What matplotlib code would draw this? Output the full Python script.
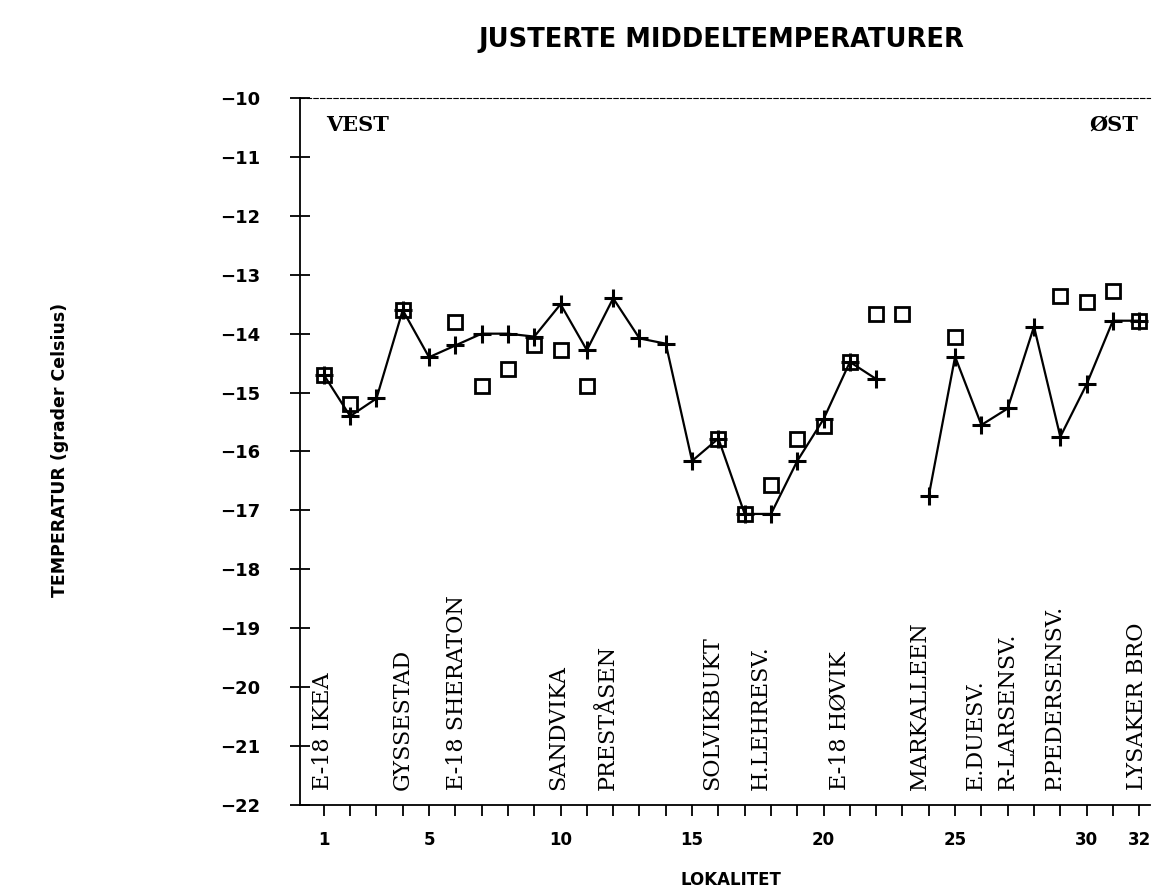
import numpy as np
import matplotlib
matplotlib.use("Agg")
import matplotlib.pyplot as plt
import matplotlib.ticker as ticker

# ── data ─────────────────────────────────────────────────────────────────────
lokalitet = np.arange(1, 33)

# '+' series, joined by a line (no value at 23 -> gap)
temp_plus = [-14.70, -15.40, -15.10, -13.60, -14.40, -14.20, -14.00, -14.00,
             -14.05, -13.50, -14.28, -13.40, -14.08, -14.17, -16.16, -15.78,
             -17.06, -17.06, -16.16, -15.45, -14.48, -14.77, np.nan, -16.75,
             -14.39, -15.55, -15.27, -13.88, -15.75, -14.86, -13.78, -13.78]

# open squares
temp_square = [-14.70, -15.20, np.nan, -13.60, np.nan, -13.80, -14.89, -14.60,
               -14.19, -14.28, -14.89, np.nan, np.nan, np.nan, np.nan, -15.78,
               -17.06, -16.57, -15.78, -15.56, -14.48, -13.66, -13.66, np.nan,
               -14.06, np.nan, np.nan, np.nan, -13.36, -13.46, -13.27, -13.78]

station_names = ["E-18 IKEA", "GYSSESTAD", "E-18 SHERATON", "SANDVIKA",
                 "PRESTÅSEN", "SOLVIKBUKT", "H.LEHRESV.", "E-18 HØVIK",
                 "MARKALLEEN", "E.DUESV.", "R-LARSENSV.", "P.PEDERSENSV.",
                 "LYSAKER BRO"]
station_pos = [0.95, 4.0, 6.05, 9.9, 11.8, 15.75, 17.6, 20.6,
               23.65, 25.8, 27.0, 28.8, 31.9]

xtick_labels = [1, 5, 10, 15, 20, 25, 30, 32]

# ── figure ───────────────────────────────────────────────────────────────────
fig = plt.figure(figsize=(11.59, 8.96), dpi=100)
ax = fig.add_axes([0.259, 0.1016, 0.733, 0.789])

ax.plot(lokalitet, temp_plus, color="black", lw=1.6, marker="+",
        markersize=13, markeredgewidth=2.2, zorder=3)
ax.plot(lokalitet, temp_square, ls="none", marker="s", markersize=10,
        markerfacecolor="none", markeredgecolor="black", markeredgewidth=2.0,
        zorder=4)

ax.set_xlim(0.1, 32.4)
ax.set_ylim(-22, -10)

# y axis
ax.yaxis.set_major_locator(ticker.MultipleLocator(1))
ax.yaxis.set_major_formatter(ticker.FuncFormatter(lambda v, p: f"\u2212{abs(int(round(v)))}"))
ax.tick_params(axis="y", direction="inout", length=14, width=1.3, pad=22,
               labelsize=13)
for lab in ax.get_yticklabels():
    lab.set_fontweight("bold")

# x axis: ticks at every site, labels at a few
ax.set_xticks(lokalitet)
ax.set_xticklabels([str(v) if v in xtick_labels else "" for v in lokalitet],
                   fontweight="bold", fontsize=12)
ax.tick_params(axis="x", direction="out", length=8, width=1.3, pad=11)

for side in ("left", "bottom"):
    ax.spines[side].set_linewidth(1.3)
ax.spines["right"].set_visible(False)
ax.spines["top"].set_linewidth(0.8)
ax.spines["top"].set_linestyle((0, (4, 2)))

# station names, vertical, standing on the x axis
for name, pos in zip(station_names, station_pos):
    ax.text(pos, -21.75, name, rotation=90, ha="center", va="bottom",
            family="DejaVu Serif", fontsize=16)

ax.text(1.1, -10.45, "VEST", family="DejaVu Serif", fontweight="bold",
        fontsize=15, ha="left", va="center")
ax.text(31.95, -10.45, "ØST", family="DejaVu Serif", fontweight="bold",
        fontsize=15, ha="right", va="center")

fig.text(721 / 1159, 1 - 40 / 896, "JUSTERTE MIDDELTEMPERATURER",
         ha="center", va="center", fontsize=18.5, fontweight="bold")
fig.text(60 / 1159, 1 - 450 / 896, "TEMPERATUR (grader Celsius)",
         rotation=90, ha="center", va="center", fontsize=12.5, fontweight="bold")
fig.text(731 / 1159, 1 - 880 / 896, "LOKALITET", ha="center", va="center",
         fontsize=12, fontweight="bold")

fig.savefig("out.png", dpi=100)
